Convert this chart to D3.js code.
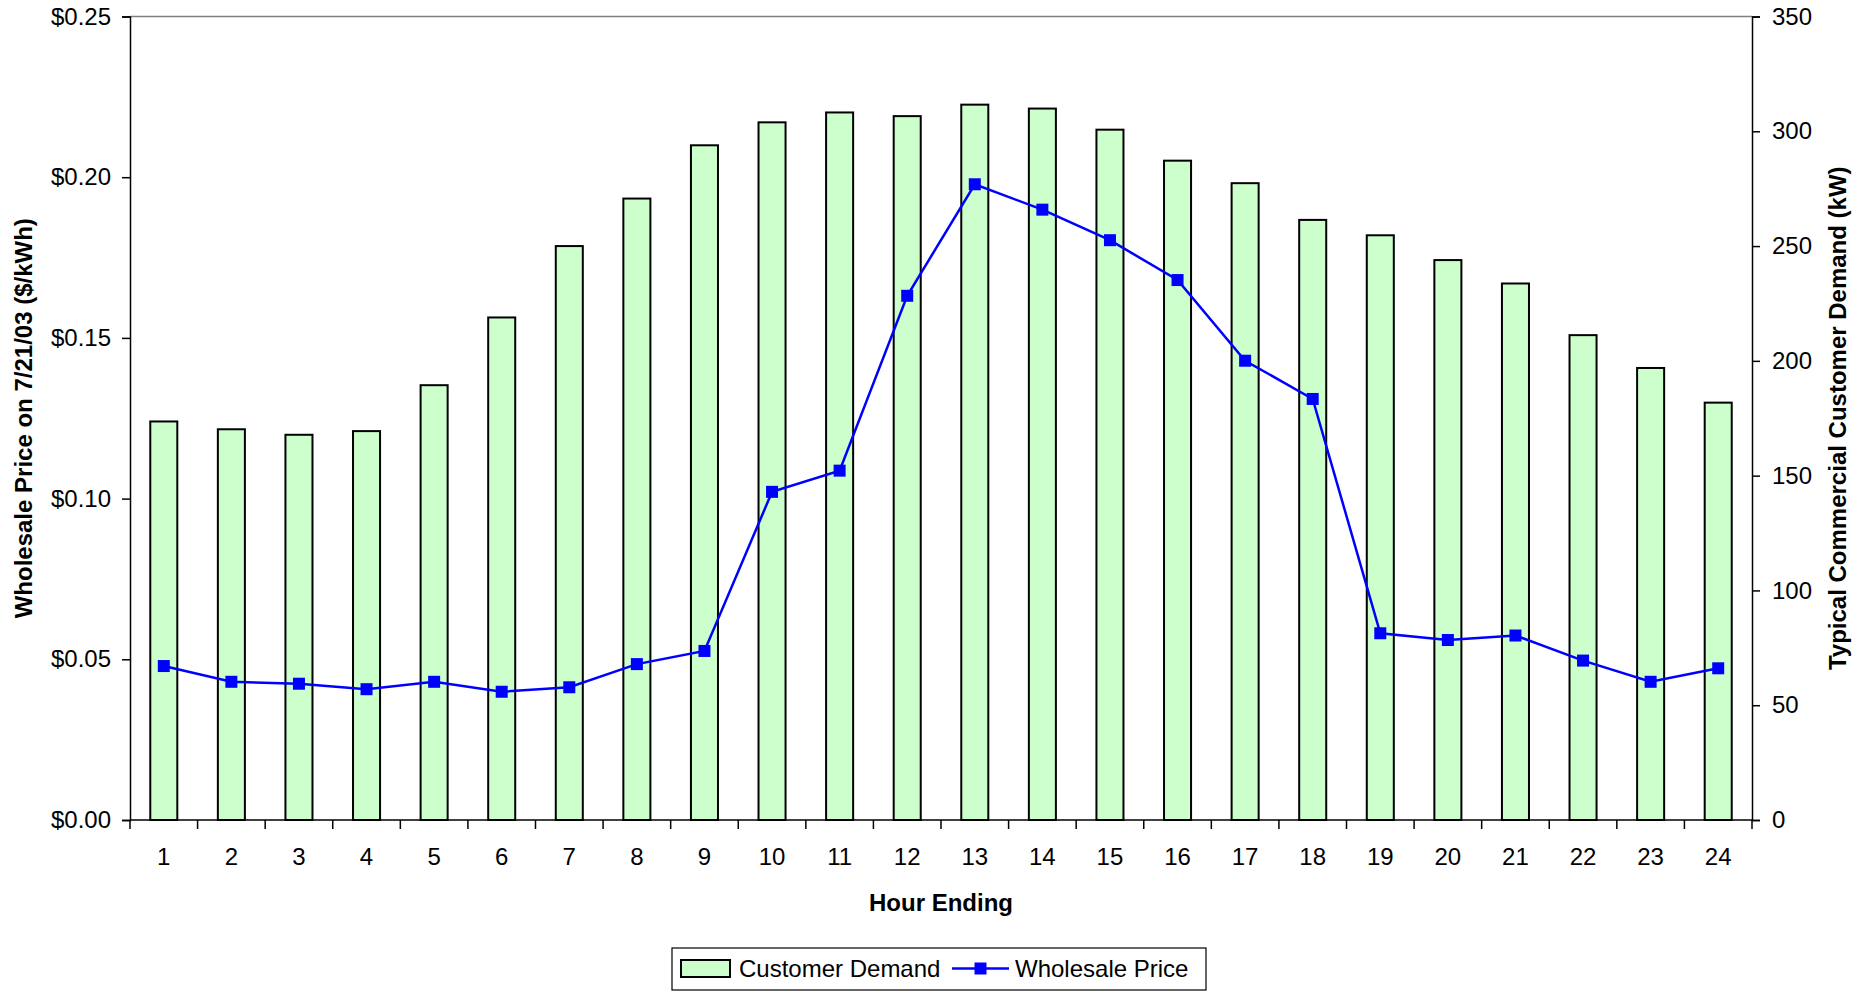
<!DOCTYPE html>
<html>
<head>
<meta charset="utf-8">
<script src="https://cdn.jsdelivr.net/npm/d3@7"></script>
<style>
  html, body { margin: 0; padding: 0; background: #fff; }
  svg { display: block; }
  text { font-family: "Liberation Sans", Arial, sans-serif; fill: #000; }
</style>
</head>
<body>
<svg id="chart" width="1866" height="992"></svg>
<script>
// Hour ending categories
const hours = d3.range(1, 25).map(String);

// Typical commercial customer demand (kW) per hour
const demand = [173.6, 170.2, 167.8, 169.4, 189.4, 218.9, 250.0, 270.7, 293.9, 303.9, 308.2, 306.6,
                311.6, 309.9, 300.7, 287.2, 277.4, 261.4, 254.7, 243.9, 233.7, 211.2, 196.9, 181.8];

// Wholesale price on 7/21/03 ($/kWh) per hour
const price = [0.0479, 0.0430, 0.0424, 0.0407, 0.0430, 0.0399, 0.0413, 0.0485, 0.0526, 0.1021, 0.1087, 0.1631,
               0.1978, 0.1899, 0.1804, 0.1680, 0.1429, 0.1310, 0.0581, 0.0560, 0.0574, 0.0496, 0.0430, 0.0472];

// Axis ticks
const priceTicks = [0, 0.05, 0.10, 0.15, 0.20, 0.25];
const demandTicks = [0, 50, 100, 150, 200, 250, 300, 350];

const svg = d3.select("#chart");
const plot = { left: 130, right: 1752, top: 16.5, bottom: 820 };

const x = d3.scaleBand().domain(hours).range([plot.left, plot.right]).paddingInner(0).paddingOuter(0);
const yPrice = d3.scaleLinear().domain([0, 0.25]).range([plot.bottom, plot.top]);
const yDemand = d3.scaleLinear().domain([0, 350]).range([plot.bottom, plot.top]);

const barW = x.bandwidth() * 0.4;

// Plot area frame (top edge)
svg.append("line")
  .attr("x1", plot.left).attr("x2", plot.right)
  .attr("y1", plot.top).attr("y2", plot.top)
  .attr("stroke", "#808080").attr("stroke-width", 1.5);

// Demand bars
svg.append("g").selectAll("rect")
  .data(demand)
  .join("rect")
  .attr("x", (d, i) => x(hours[i]) + (x.bandwidth() - barW) / 2)
  .attr("y", d => yDemand(d))
  .attr("width", barW)
  .attr("height", d => yDemand(0) - yDemand(d))
  .attr("fill", "#CCFFCC")
  .attr("stroke", "#000")
  .attr("stroke-width", 2);

// Left axis (price)
const leftAxis = d3.axisLeft(yPrice).tickValues(priceTicks)
  .tickFormat(d => "$" + d3.format(".2f")(d)).tickSize(8).tickPadding(11);
const gl = svg.append("g").attr("transform", `translate(${plot.left},0)`).call(leftAxis);
gl.select(".domain").attr("stroke", "#000").attr("stroke-width", 1.5);
gl.selectAll(".tick line").attr("stroke", "#000").attr("stroke-width", 1.5);
gl.selectAll(".tick text").style("font-size", "24px").style("font-family", "'Liberation Sans', Arial, sans-serif").attr("fill", "#000");

// Right axis (demand)
const rightAxis = d3.axisRight(yDemand).tickValues(demandTicks).tickSize(8).tickPadding(12);
const gr = svg.append("g").attr("transform", `translate(${plot.right},0)`).call(rightAxis);
gr.select(".domain").attr("stroke", "#000").attr("stroke-width", 1.5);
gr.selectAll(".tick line").attr("stroke", "#000").attr("stroke-width", 1.5);
gr.selectAll(".tick text").style("font-size", "24px").style("font-family", "'Liberation Sans', Arial, sans-serif").attr("fill", "#000");

// Bottom axis: ticks at category boundaries, labels centred in bands
const gb = svg.append("g");
gb.append("line")
  .attr("x1", plot.left).attr("x2", plot.right)
  .attr("y1", plot.bottom).attr("y2", plot.bottom)
  .attr("stroke", "#000").attr("stroke-width", 1.5);
gb.selectAll("line.tk")
  .data(hours.concat(["end"]))
  .join("line")
  .attr("class", "tk")
  .attr("x1", (d, i) => plot.left + i * x.bandwidth())
  .attr("x2", (d, i) => plot.left + i * x.bandwidth())
  .attr("y1", plot.bottom).attr("y2", plot.bottom + 9)
  .attr("stroke", "#000").attr("stroke-width", 1.5);
gb.selectAll("text")
  .data(hours)
  .join("text")
  .attr("x", d => x(d) + x.bandwidth() / 2)
  .attr("y", 865)
  .attr("text-anchor", "middle")
  .style("font-size", "24px")
  .text(d => d);

// Price line with square markers
const line = d3.line()
  .x((d, i) => x(hours[i]) + x.bandwidth() / 2)
  .y(d => yPrice(d));
svg.append("path")
  .datum(price)
  .attr("d", line)
  .attr("fill", "none")
  .attr("stroke", "#0000FF")
  .attr("stroke-width", 2.5);
const mk = 12;
svg.append("g").selectAll("rect")
  .data(price)
  .join("rect")
  .attr("x", (d, i) => x(hours[i]) + x.bandwidth() / 2 - mk / 2)
  .attr("y", d => yPrice(d) - mk / 2)
  .attr("width", mk).attr("height", mk)
  .attr("fill", "#0000FF");

// Axis titles
svg.append("text")
  .attr("transform", `translate(32,${(plot.top + plot.bottom) / 2}) rotate(-90)`)
  .attr("text-anchor", "middle")
  .style("font-size", "24px").style("font-weight", "bold")
  .text("Wholesale Price on 7/21/03 ($/kWh)");
svg.append("text")
  .attr("transform", `translate(1846,${(plot.top + plot.bottom) / 2}) rotate(-90)`)
  .attr("text-anchor", "middle")
  .style("font-size", "24px").style("font-weight", "bold")
  .text("Typical Commercial Customer Demand (kW)");
svg.append("text")
  .attr("x", (plot.left + plot.right) / 2)
  .attr("y", 911)
  .attr("text-anchor", "middle")
  .style("font-size", "24px").style("font-weight", "bold")
  .text("Hour Ending");

// Legend
const lg = svg.append("g");
lg.append("rect")
  .attr("x", 672).attr("y", 948).attr("width", 534).attr("height", 42)
  .attr("fill", "#fff").attr("stroke", "#000").attr("stroke-width", 1.2);
lg.append("rect")
  .attr("x", 681).attr("y", 960).attr("width", 49).attr("height", 17)
  .attr("fill", "#CCFFCC").attr("stroke", "#000").attr("stroke-width", 2);
lg.append("text")
  .attr("x", 739).attr("y", 977)
  .style("font-size", "24px")
  .text("Customer Demand");
lg.append("line")
  .attr("x1", 952).attr("x2", 1009).attr("y1", 968.5).attr("y2", 968.5)
  .attr("stroke", "#0000FF").attr("stroke-width", 2.5);
lg.append("rect")
  .attr("x", 980.5 - mk / 2).attr("y", 968.5 - mk / 2).attr("width", mk).attr("height", mk)
  .attr("fill", "#0000FF");
lg.append("text")
  .attr("x", 1015).attr("y", 977)
  .style("font-size", "24px")
  .text("Wholesale Price");
</script>
</body>
</html>
